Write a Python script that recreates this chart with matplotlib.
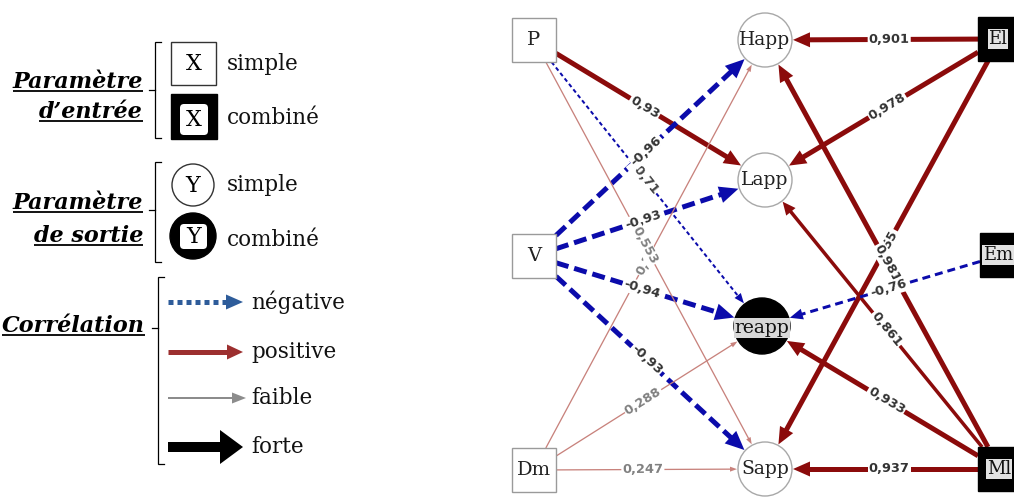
import numpy as np
import matplotlib
matplotlib.use("Agg")
import matplotlib.pyplot as plt
from matplotlib.patches import Rectangle, Circle, Polygon, FancyBboxPatch

# ---------------- data ----------------
input_nodes = ["P", "V", "Dm"]
combined_inputs = ["El", "Em", "Ml"]
output_nodes = ["Happ", "Lapp", "reapp", "Sapp"]
combined_outputs = ["reapp"]

edge_sources = ["P", "P", "V", "V", "V", "V", "Dm", "P", "Dm", "Dm",
                "El", "El", "El", "Ml", "Ml", "Ml", "Ml", "Em"]
edge_targets = ["Lapp", "reapp", "Happ", "Lapp", "reapp", "Sapp", "Happ", "Sapp", "reapp", "Sapp",
                "Happ", "Lapp", "Sapp", "Happ", "Lapp", "reapp", "Sapp", "reapp"]
edge_values = [0.93, -0.71, -0.96, -0.93, -0.94, -0.93, 0.2, 0.553, 0.288, 0.247,
               0.901, 0.978, 0.55, 0.981, 0.861, 0.933, 0.937, -0.76]
edge_strength = ["strong", "weak", "strong", "strong", "strong", "strong", "weak", "weak", "weak", "weak",
                 "strong", "strong", "strong", "strong", "mid", "strong", "strong", "mid"]

legend_groups = ["Paramètre\nd’entrée", "Paramètre\nde sortie", "Corrélation"]
legend_node_labels = ["simple", "combiné"]
legend_corr_labels = ["négative", "positive", "faible", "forte"]

# ---------------- layout ----------------
W, H = 1014, 497
fig = plt.figure(figsize=(W / 100, H / 100), dpi=100)
ax = fig.add_axes([0, 0, 1, 1])
ax.set_xlim(0, W)
ax.set_ylim(H, 0)
ax.axis("off")

pos = {"P": (534, 40), "V": (534, 256), "Dm": (534, 470),
       "Happ": (765, 40), "Lapp": (765, 180), "reapp": (762, 326), "Sapp": (765, 469),
       "El": (1000, 39), "Em": (1002, 255), "Ml": (1000, 469)}
text_x_shift = {"El": -2, "Em": -4, "Ml": -1}
BOX_HALF = 22
RADIUS = {"Happ": 27, "Lapp": 27, "reapp": 28, "Sapp": 27}

SERIF = "DejaVu Serif"

POS_DARK = "#8b0b0b"
POS_LIGHT = "#c8827c"
NEG = "#0b0bab"

styles = {
    ("pos", "strong"): dict(color=POS_DARK, lw=5.0, dash=None, head=(17, 15), lc="#333333"),
    ("pos", "mid"): dict(color=POS_DARK, lw=3.5, dash=None, head=(13, 12), lc="#333333"),
    ("pos", "weak"): dict(color=POS_LIGHT, lw=1.3, dash=None, head=(7, 5), lc="#808080"),
    ("neg", "strong"): dict(color=NEG, lw=5.0, dash=(13, 6), head=(19, 17), lc="#333333"),
    ("neg", "mid"): dict(color=NEG, lw=3.0, dash=(8, 5), head=(13, 11), lc="#333333"),
    ("neg", "weak"): dict(color=NEG, lw=2.0, dash=(4, 3), head=(10, 8), lc="#444444"),
}


def draw_arrow(p0, p1, color, lw_px, dash=None, head=(16, 14), z=2):
    p0 = np.asarray(p0, float)
    p1 = np.asarray(p1, float)
    d = p1 - p0
    L = np.hypot(*d)
    u = d / L
    n = np.array([-u[1], u[0]])
    hl, hw = head
    base = p1 - u * hl
    ls = "-" if dash is None else (0, (dash[0] / lw_px, dash[1] / lw_px))
    end = base + u * 1.0
    ax.plot([p0[0], end[0]], [p0[1], end[1]], color=color, lw=lw_px * 0.72, ls=ls,
            solid_capstyle="butt", dash_capstyle="butt", zorder=z)
    ax.add_patch(Polygon([p1, base + n * hw / 2, base - n * hw / 2], closed=True,
                         fc=color, ec="none", zorder=z))


# ---------------- edges ----------------
for i, (s, t, v, st) in enumerate(zip(edge_sources, edge_targets, edge_values, edge_strength)):
    sty = styles[("pos" if v > 0 else "neg", st)]
    c = np.array(pos[s], float)
    tc = np.array(pos[t], float)
    d = tc - c
    sc = min(BOX_HALF / abs(d[0]) if d[0] != 0 else 1e9, BOX_HALF / abs(d[1]) if d[1] != 0 else 1e9)
    start = c + d * sc
    u = (tc - start) / np.hypot(*(tc - start))
    end = tc - u * (RADIUS[t] + 1)
    draw_arrow(start, end, sty["color"], sty["lw"], sty["dash"], sty["head"], z=2)
    mid = start + 0.48 * (end - start)
    ang = np.degrees(np.arctan2(-(end[1] - start[1]), end[0] - start[0]))
    if ang > 90:
        ang -= 180
    elif ang <= -90:
        ang += 180
    lab = ("%g" % v).replace(".", ",")
    ax.text(mid[0], mid[1], lab, rotation=ang, rotation_mode="anchor", ha="center", va="center",
            fontsize=9.3, fontweight="bold", family="DejaVu Sans", color=sty["lc"], zorder=5 + i * 0.01,
            bbox=dict(boxstyle="square,pad=0.08", fc="white", ec="none"))

# ---------------- nodes ----------------
for nm in input_nodes:
    x, y = pos[nm]
    ax.add_patch(Rectangle((x - BOX_HALF, y - BOX_HALF), 2 * BOX_HALF, 2 * BOX_HALF,
                           fc="white", ec="#9a9a9a", lw=1.0, zorder=10))
    ax.text(x, y, nm, ha="center", va="center", fontsize=14, family=SERIF, color="#222222", zorder=11)

for nm in combined_inputs:
    x, y = pos[nm]
    ax.add_patch(Rectangle((x - BOX_HALF, y - BOX_HALF), 2 * BOX_HALF, 2 * BOX_HALF,
                           fc="black", ec="black", lw=1.0, zorder=10))
    ax.text(x + text_x_shift[nm], y, nm, ha="center", va="center", fontsize=13, family=SERIF,
            color="#111111", zorder=11,
            bbox=dict(boxstyle="square,pad=0.05", fc="#e2e2e2", ec="none"))

for nm in output_nodes:
    x, y = pos[nm]
    if nm in combined_outputs:
        ax.add_patch(Circle((x, y), RADIUS[nm], fc="black", ec="black", lw=1.0, zorder=10))
        ax.text(x, y + 2, nm, ha="center", va="center", fontsize=13.5, family=SERIF, color="#111111",
                zorder=11, bbox=dict(boxstyle="square,pad=0.05", fc="#d8d8d8", ec="none"))
    else:
        ax.add_patch(Circle((x, y), RADIUS[nm], fc="white", ec="#a8a8a8", lw=1.0, zorder=10))
        ax.text(x, y, nm, ha="center", va="center", fontsize=13.5, family=SERIF, color="#222222", zorder=11)

# ---------------- legend ----------------
def bracket(x, y0, y1, ymid, tick_in=6, tick_out=6):
    ax.plot([x + tick_in, x, x, x + tick_in], [y0, y0, y1, y1], color="black", lw=0.9, zorder=3,
            solid_joinstyle="miter")
    ax.plot([x - tick_out, x], [ymid, ymid], color="black", lw=0.9, zorder=3)


title_specs = [
    (143, [88, 118], legend_groups[0].split("\n")),
    (143, [209, 242], legend_groups[1].split("\n")),
    (145, [332], [legend_groups[2]]),
]
title_texts = []
for x, ys, lines in title_specs:
    for y, line in zip(ys, lines):
        t = ax.text(x, y, line, ha="right", va="baseline", fontsize=16, family=SERIF,
                    fontweight="bold", fontstyle="italic", color="black", zorder=3)
        title_texts.append((t, y))

bracket(155, 42, 138, 90)
bracket(155, 162, 262, 210)
bracket(158, 277, 464, 328)

# simple box
ax.add_patch(Rectangle((171, 42), 45, 43, fc="white", ec="#333333", lw=1.0, zorder=3))
ax.text(193.5, 64, "X", ha="center", va="center", fontsize=16, family=SERIF, zorder=4)
# combined box
ax.add_patch(Rectangle((171, 94), 46, 45, fc="black", ec="black", lw=1.0, zorder=3))
ax.add_patch(FancyBboxPatch((180, 104), 28, 31, boxstyle="round,pad=0,rounding_size=4",
                            fc="white", ec="none", zorder=4))
ax.text(194, 120, "X", ha="center", va="center", fontsize=16, family=SERIF, zorder=5)
# simple circle
ax.add_patch(Circle((193, 185), 21, fc="white", ec="#333333", lw=1.0, zorder=3))
ax.text(193, 186, "Y", ha="center", va="center", fontsize=16, family=SERIF, zorder=4)
# combined circle
ax.add_patch(Circle((193, 236), 23, fc="black", ec="black", lw=1.0, zorder=3))
ax.add_patch(FancyBboxPatch((180, 224), 27, 25, boxstyle="round,pad=0,rounding_size=4",
                            fc="white", ec="none", zorder=4))
ax.text(193.5, 237, "Y", ha="center", va="center", fontsize=16, family=SERIF, zorder=5)

for y, lab in zip([64, 118, 185, 240], legend_node_labels * 2):
    ax.text(227, y, lab, ha="left", va="center", fontsize=15.5, family=SERIF, color="#111111", zorder=3)

# correlation arrows
corr_y = [302, 352, 398, 447]
draw_arrow((168, corr_y[0]), (243, corr_y[0]), "#2e5c9a", 5, dash=(5, 4), head=(17, 15), z=3)
draw_arrow((168, corr_y[1]), (243, corr_y[1]), "#9c2f2f", 5, dash=None, head=(16, 15), z=3)
draw_arrow((168, corr_y[2]), (246, corr_y[2]), "#8c8c8c", 2, dash=None, head=(14, 11), z=3)
draw_arrow((168, corr_y[3]), (243, corr_y[3]), "black", 10, dash=None, head=(23, 34), z=3)
for y, lab in zip(corr_y, legend_corr_labels):
    ax.text(251, y, lab, ha="left", va="center", fontsize=15.5, family=SERIF, color="#111111", zorder=3)

# underline titles
fig.canvas.draw()
inv = ax.transData.inverted()
for t, y in title_texts:
    bb = t.get_window_extent()
    (x0, _), (x1, _) = inv.transform([[bb.x0, bb.y0], [bb.x1, bb.y1]])
    ax.plot([x0, x1], [y + 3, y + 3], color="black", lw=1.3, zorder=3, solid_capstyle="butt")

fig.savefig("out.png", dpi=100)
